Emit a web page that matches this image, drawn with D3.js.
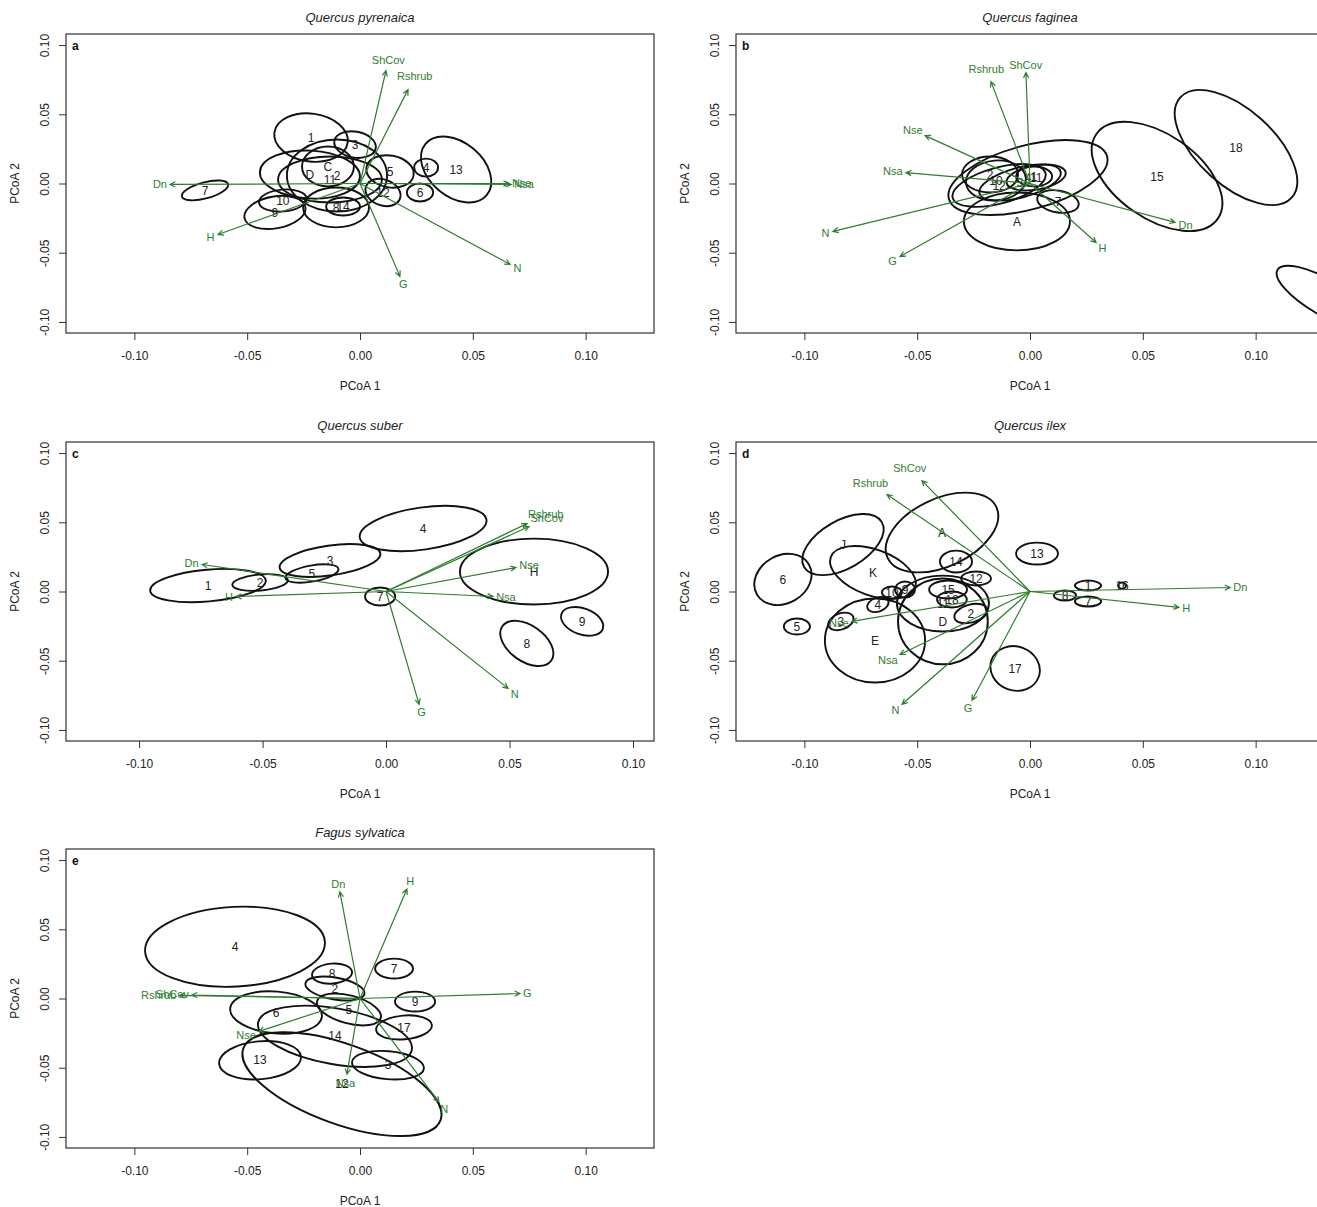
<!DOCTYPE html>
<html>
<head>
<meta charset="utf-8">
<script src="https://cdn.jsdelivr.net/npm/d3@7"></script>
<style>
body { margin: 0; background: #fff; }
text { font-family: "Liberation Sans", Arial, sans-serif; }
</style>
</head>
<body>
<svg id="chart" width="1317" height="1207"></svg>
<script>
var width = 1317, height = 1207;
var panelW = 588, panelH = 299;

var titles = ["Quercus pyrenaica", "Quercus faginea", "Quercus suber", "Quercus ilex", "Fagus sylvatica"];
var letters = ["a", "b", "c", "d", "e"];
var xTicks = [-0.10, -0.05, 0.00, 0.05, 0.10];
var yTicks = [-0.10, -0.05, 0.00, 0.05, 0.10];
var yDomain = [-0.108, 0.108];
var xDomains = [
    [-0.1303, 0.1303],
    [-0.1303, 0.1303],
    [-0.1296, 0.1085],
    [-0.1303, 0.1303],
    [-0.1303, 0.1303]
];

// ellipses: label, centre x, centre y, radius x, radius y, angle
var ellipsesA = [
    ["1", -0.0217, 0.0332, 0.0164, 0.0173, 8],
    ["3", -0.0022, 0.0281, 0.0093, 0.0094, 10],
    ["C", -0.0142, 0.0123, 0.0115, 0.0144, 0],
    ["D", -0.0222, 0.0065, 0.0222, 0.0173, 3],
    ["11", -0.0133, 0.0029, 0.0230, 0.0166, 0],
    ["2", -0.0102, 0.0058, 0.0222, 0.0260, 0],
    ["5", 0.0133, 0.0087, 0.0106, 0.0115, 10],
    ["4", 0.0293, 0.0115, 0.0053, 0.0065, 0],
    ["13", 0.0426, 0.0101, 0.0177, 0.0195, 40],
    ["6", 0.0266, -0.0065, 0.0058, 0.0065, 0],
    ["12", 0.0102, -0.0065, 0.0080, 0.0094, 20],
    ["7", -0.0687, -0.0050, 0.0106, 0.0058, -15],
    ["10", -0.0342, -0.0123, 0.0106, 0.0079, -5],
    ["9", -0.0377, -0.0209, 0.0137, 0.0115, -10],
    ["14", -0.0075, -0.0166, 0.0075, 0.0065, 0],
    ["8", -0.0106, -0.0173, 0.0146, 0.0144, 0]
];
var ellipsesB = [
    ["15", 0.0563, 0.0051, 0.0328, 0.0303, 35],
    ["18", 0.0913, 0.0260, 0.0332, 0.0274, 42],
    ["", 0.1308, -0.0823, 0.0244, 0.0130, 30],
    ["4", -0.0009, 0.0043, 0.0363, 0.0231, -15],
    ["A", -0.0058, -0.0274, 0.0235, 0.0209, 0],
    ["7", 0.0124, -0.0130, 0.0093, 0.0079, 10],
    ["12", -0.0137, -0.0014, 0.0213, 0.0130, -15],
    ["10", -0.0151, 0.0022, 0.0133, 0.0144, -5],
    ["1", 0.0018, 0.0051, 0.0080, 0.0072, 0],
    ["11", 0.0027, 0.0043, 0.0133, 0.0087, -10],
    ["3", -0.0044, 0.0007, 0.0186, 0.0108, -15],
    ["2", -0.0177, 0.0065, 0.0124, 0.0130, 0]
];
var ellipsesC = [
    ["1", -0.0721, 0.0043, 0.0235, 0.0115, -5],
    ["2", -0.0510, 0.0065, 0.0113, 0.0058, -5],
    ["5", -0.0300, 0.0130, 0.0109, 0.0058, -10],
    ["3", -0.0227, 0.0224, 0.0206, 0.0108, -8],
    ["4", 0.0150, 0.0455, 0.0259, 0.0152, -8],
    ["7", -0.0024, -0.0036, 0.0061, 0.0065, 0],
    ["H", 0.0599, 0.0144, 0.0300, 0.0238, 0],
    ["8", 0.0570, -0.0375, 0.0121, 0.0130, 35],
    ["9", 0.0794, -0.0216, 0.0089, 0.0094, 20]
];
var ellipsesD = [
    ["6", -0.1095, 0.0087, 0.0133, 0.0173, -30],
    ["J", -0.0829, 0.0339, 0.0199, 0.0173, -30],
    ["K", -0.0696, 0.0137, 0.0199, 0.0166, 20],
    ["A", -0.0390, 0.0426, 0.0266, 0.0245, -25],
    ["13", 0.0031, 0.0274, 0.0093, 0.0079, 0],
    ["14", -0.0328, 0.0216, 0.0071, 0.0079, 0],
    ["12", -0.0239, 0.0094, 0.0066, 0.0051, 0],
    ["1", 0.0257, 0.0043, 0.0058, 0.0036, 0],
    ["8", 0.0155, -0.0029, 0.0049, 0.0036, 0],
    ["7", 0.0257, -0.0072, 0.0058, 0.0036, 0],
    ["16", 0.0408, 0.0043, 0.0018, 0.0022, 0],
    ["10", -0.0612, -0.0007, 0.0044, 0.0043, 0],
    ["9", -0.0554, 0.0014, 0.0044, 0.0058, 0],
    ["4", -0.0674, -0.0094, 0.0049, 0.0051, -20],
    ["3", -0.0838, -0.0216, 0.0058, 0.0058, -20],
    ["5", -0.1033, -0.0253, 0.0058, 0.0058, 0],
    ["E", -0.0687, -0.0354, 0.0222, 0.0303, 0],
    ["D", -0.0386, -0.0216, 0.0199, 0.0310, 0],
    ["11", -0.0386, -0.0087, 0.0204, 0.0202, 0],
    ["15", -0.0363, 0.0014, 0.0084, 0.0065, 0],
    ["18", -0.0346, -0.0058, 0.0066, 0.0058, 0],
    ["2", -0.0262, -0.0159, 0.0075, 0.0065, -15],
    ["17", -0.0066, -0.0556, 0.0111, 0.0159, 20]
];
var ellipsesE = [
    ["4", -0.0554, 0.0374, 0.0399, 0.0288, -3],
    ["8", -0.0124, 0.0180, 0.0089, 0.0072, -5],
    ["2", -0.0111, 0.0072, 0.0133, 0.0079, 10],
    ["7", 0.0151, 0.0216, 0.0084, 0.0072, 0],
    ["9", 0.0244, -0.0022, 0.0089, 0.0072, 0],
    ["5", -0.0049, -0.0079, 0.0146, 0.0101, 15],
    ["6", -0.0372, -0.0101, 0.0204, 0.0151, 5],
    ["17", 0.0195, -0.0209, 0.0124, 0.0086, -5],
    ["14", -0.0111, -0.0273, 0.0346, 0.0201, 10],
    ["13", -0.0443, -0.0446, 0.0182, 0.0137, -5],
    ["3", 0.0124, -0.0482, 0.0160, 0.0101, 5],
    ["12", -0.0080, -0.0619, 0.0465, 0.0288, 20]
];

// fitted vectors: label, PCoA 1, PCoA 2
var arrowsA = [
    ["Dn", -0.0842, -0.0007], ["ShCov", 0.0115, 0.0815], ["Rshrub", 0.0213, 0.0678],
    ["Nse", 0.0660, 0.0000], ["Nsa", 0.0670, -0.0007], ["N", 0.0665, -0.0584],
    ["G", 0.0177, -0.0671], ["H", -0.0629, -0.0368]
];
var arrowsB = [
    ["ShCov", -0.0018, 0.0801], ["Rshrub", -0.0173, 0.0736], ["Nse", -0.0465, 0.0346],
    ["Nsa", -0.0550, 0.0079], ["N", -0.0873, -0.0346], ["G", -0.0576, -0.0527],
    ["H", 0.0293, -0.0426], ["Dn", 0.0643, -0.0281]
];
var arrowsC = [
    ["Rshrub", 0.0571, 0.0491], ["ShCov", 0.0579, 0.0469], ["Nse", 0.0526, 0.0173],
    ["Nsa", 0.0433, -0.0036], ["N", 0.0494, -0.0700], ["G", 0.0134, -0.0815],
    ["Dn", -0.0745, 0.0195], ["H", -0.0607, -0.0036]
];
var arrowsD = [
    ["ShCov", -0.0479, 0.0801], ["Rshrub", -0.0634, 0.0700], ["Dn", 0.0887, 0.0029],
    ["H", 0.0660, -0.0115], ["Nse", -0.0789, -0.0216], ["Nsa", -0.0576, -0.0455],
    ["N", -0.0567, -0.0815], ["G", -0.0257, -0.0786]
];
var arrowsE = [
    ["Dn", -0.0089, 0.0770], ["H", 0.0208, 0.0791], ["G", 0.0709, 0.0036],
    ["Rshrub", -0.0800, 0.0022], ["ShCov", -0.0745, 0.0025], ["Nse", -0.0448, -0.0237],
    ["Nsa", -0.0058, -0.0547], ["N", 0.0350, -0.0748]
];

var ellipseSets = [ellipsesA, ellipsesB, ellipsesC, ellipsesD, ellipsesE];
var arrowSets = [arrowsA, arrowsB, arrowsC, arrowsD, arrowsE];

// panel placement on the page
var panelPos = [[66, 34], [736, 34], [66, 442], [736, 442], [66, 849]];

var green = "#2f7d2f";
var tickFmt = function(d) { return d.toFixed(2); };
var svg = d3.select("#chart");
svg.append("rect").attr("width", width).attr("height", height).attr("fill", "#fff");

for (var i = 0; i < 5; i++) {
    plot(i);
}

function plot(i) {
    var g = svg.append("g")
        .attr("transform", "translate(" + panelPos[i][0] + "," + panelPos[i][1] + ")");

    var x = d3.scaleLinear().domain(xDomains[i]).range([0, panelW]);
    var y = d3.scaleLinear().domain(yDomain).range([panelH, 0]);

    g.append("clipPath").attr("id", "clip" + i)
        .append("rect").attr("width", panelW).attr("height", panelH);

    // x axis
    var xa = g.append("g")
        .attr("transform", "translate(0," + panelH + ")")
        .call(d3.axisBottom(x).tickValues(xTicks).tickFormat(tickFmt).tickSize(7).tickPadding(11));
    xa.select(".domain").remove();
    xa.selectAll("line").attr("stroke", "#333");
    xa.selectAll("text").attr("font-size", 12).attr("fill", "#222")
        .attr("font-family", "Liberation Sans, Arial, sans-serif");

    // y axis, labels turned like R does
    var ya = g.append("g")
        .call(d3.axisLeft(y).tickValues(yTicks).tickFormat(tickFmt).tickSize(7));
    ya.select(".domain").remove();
    ya.selectAll("line").attr("stroke", "#333");
    ya.selectAll("text")
        .attr("font-size", 12).attr("fill", "#222")
        .attr("font-family", "Liberation Sans, Arial, sans-serif")
        .attr("x", 0).attr("dy", null)
        .attr("y", -17)
        .attr("text-anchor", "middle")
        .attr("transform", "rotate(-90)");

    // box
    g.append("rect")
        .attr("width", panelW).attr("height", panelH)
        .attr("fill", "none").attr("stroke", "#333").attr("stroke-width", 1.2);

    // titles
    g.append("text")
        .attr("x", panelW / 2).attr("y", -12)
        .attr("text-anchor", "middle").attr("font-size", 13).attr("font-style", "italic")
        .attr("fill", "#222")
        .text(titles[i]);
    g.append("text")
        .attr("x", 6).attr("y", 16)
        .attr("font-size", 12).attr("font-weight", "bold").attr("fill", "#111")
        .text(letters[i]);
    g.append("text")
        .attr("x", panelW / 2).attr("y", panelH + 57)
        .attr("text-anchor", "middle").attr("font-size", 12).attr("fill", "#222")
        .text("PCoA 1");
    g.append("text")
        .attr("transform", "translate(-47," + (panelH / 2) + ") rotate(-90)")
        .attr("text-anchor", "middle").attr("font-size", 12).attr("fill", "#222")
        .text("PCoA 2");

    var inner = g.append("g").attr("clip-path", "url(#clip" + i + ")");

    // ellipses
    inner.selectAll("ellipse")
        .data(ellipseSets[i])
        .join("ellipse")
        .attr("cx", function(d) { return x(d[1]); })
        .attr("cy", function(d) { return y(d[2]); })
        .attr("rx", function(d) { return x(d[3]) - x(0); })
        .attr("ry", function(d) { return y(0) - y(d[4]); })
        .attr("transform", function(d) { return "rotate(" + d[5] + "," + x(d[1]) + "," + y(d[2]) + ")"; })
        .attr("fill", "none")
        .attr("stroke", "#111")
        .attr("stroke-width", 1.9);

    inner.selectAll("text.elab")
        .data(ellipseSets[i].filter(function(d) { return d[0] !== ""; }))
        .join("text")
        .attr("class", "elab")
        .attr("x", function(d) { return x(d[1]); })
        .attr("y", function(d) { return y(d[2]); })
        .attr("dy", "0.35em")
        .attr("text-anchor", "middle")
        .attr("font-size", 12)
        .attr("fill", "#222")
        .text(function(d) { return d[0]; });

    // vectors
    var x0 = x(0), y0 = y(0);
    inner.selectAll("path.vec")
        .data(arrowSets[i])
        .join("path")
        .attr("class", "vec")
        .attr("d", function(d) {
            var tx = x(d[1]), ty = y(d[2]);
            var a = Math.atan2(ty - y0, tx - x0), L = 6;
            var p = d3.path();
            p.moveTo(x0, y0); p.lineTo(tx, ty);
            p.moveTo(tx - L * Math.cos(a - 0.45), ty - L * Math.sin(a - 0.45));
            p.lineTo(tx, ty);
            p.lineTo(tx - L * Math.cos(a + 0.45), ty - L * Math.sin(a + 0.45));
            return p.toString();
        })
        .attr("fill", "none")
        .attr("stroke", green)
        .attr("stroke-width", 1.2);

    // vector labels pushed just past the arrow tip, by half the text box
    inner.selectAll("text.vlab")
        .data(arrowSets[i])
        .join("text")
        .attr("class", "vlab")
        .attr("dy", "0.35em")
        .attr("text-anchor", "middle")
        .attr("font-size", 11)
        .attr("fill", green)
        .text(function(d) { return d[0]; })
        .each(function(d) {
            var tx = x(d[1]), ty = y(d[2]);
            var a = Math.atan2(ty - y0, tx - x0);
            var w = this.getComputedTextLength(), h = 8;
            var off = Math.abs(Math.cos(a)) * w / 2 + Math.abs(Math.sin(a)) * h / 2 + 3;
            d3.select(this)
                .attr("x", tx + off * Math.cos(a))
                .attr("y", ty + off * Math.sin(a));
        });
}
</script>
</body>
</html>
